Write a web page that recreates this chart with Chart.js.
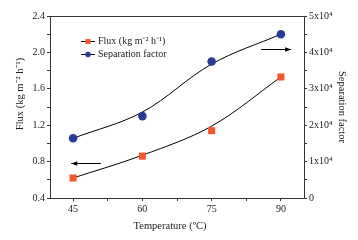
<!DOCTYPE html>
<html><head><meta charset="utf-8">
<script src="https://cdn.jsdelivr.net/npm/chart.js@4/dist/chart.umd.min.js"></script>
<style>html,body{margin:0;padding:0;background:#fff}#wrap{width:358px;height:240px;position:relative}</style>
</head><body><div id="wrap"><canvas id="c" width="358" height="240"></canvas></div>
<script>
const temperatures = [45, 60, 75, 90];
const fluxValues = [0.62, 0.86, 1.14, 1.73];
const separationFactors = [16400, 22500, 37500, 45000];
const fluxFit = [0.62, 0.87, 1.19, 1.73];
const separationFit = [16400, 23600, 36800, 45000];
const xTickValues = [45, 52.5, 60, 67.5, 75, 82.5, 90];
const fluxTickValues = [0.4, 0.6, 0.8, 1.0, 1.2, 1.4, 1.6, 1.8, 2.0, 2.2, 2.4];
const fluxTickLabels = ['0.4', '', '0.8', '', '1.2', '', '1.6', '', '2.0', '', '2.4'];
const sepTickValues = [0, 5000, 10000, 15000, 20000, 25000, 30000, 35000, 40000, 45000, 50000];
const sepTickLabels = ['0', '', '1x10\u2074', '', '2x10\u2074', '', '3x10\u2074', '', '4x10\u2074', '', '5x10\u2074'];
const legendLabels = ['Flux (kg m\u207B\u00B2 h\u207B\u00B9)', 'Separation factor'];
const axisTitles = {x: 'Temperature (\u00BAC)', y: 'Flux (kg m\u207B\u00B2 h\u207B\u00B9)', y2: 'Separation factor'};

const FLUX_COLOR = '#f2582a';
const SEP_COLOR = '#2a3a96';
const AXIS = '#333';
const FONT = 'Liberation Serif';

const pts = (xs, ys) => xs.map((x, i) => ({x: x, y: ys[i]}));

function setTicks(values) {
  return function (scale) { scale.ticks = values.map(v => ({value: v})); };
}

const extras = {
  id: 'extras',
  afterDraw(chart) {
    const ctx = chart.ctx, a = chart.chartArea;
    const sx = chart.scales.x, sy = chart.scales.y, sy2 = chart.scales.y2;
    ctx.save();
    ctx.strokeStyle = AXIS; ctx.lineWidth = 1;
    ctx.beginPath(); ctx.moveTo(a.left, a.top + 0.5); ctx.lineTo(a.right, a.top + 0.5); ctx.stroke();
    function arrow(x1, x2, y) {
      ctx.strokeStyle = '#000'; ctx.fillStyle = '#000'; ctx.lineWidth = 1;
      ctx.beginPath(); ctx.moveTo(x1, y); ctx.lineTo(x2, y); ctx.stroke();
      const d = Math.sign(x2 - x1);
      ctx.beginPath(); ctx.moveTo(x2, y); ctx.lineTo(x2 - d * 6, y - 2.2); ctx.lineTo(x2 - d * 6, y + 2.2); ctx.closePath(); ctx.fill();
    }
    const yl = Math.round(sy.getPixelForValue(0.79)) + 0.5;
    arrow(sx.getPixelForValue(51), sx.getPixelForValue(44.6), yl);
    const yr = Math.round(sy2.getPixelForValue(40900)) + 0.5;
    arrow(sx.getPixelForValue(85.7), sx.getPixelForValue(92.2), yr);
    ctx.font = '10px "' + FONT + '"'; ctx.textBaseline = 'middle'; ctx.textAlign = 'left';
    const lx = a.left + 31, ly = [a.top + 25, a.top + 38];
    for (let i = 0; i < 2; i++) {
      const y = ly[i] + 0.5;
      ctx.strokeStyle = '#000'; ctx.lineWidth = 1;
      ctx.beginPath(); ctx.moveTo(lx, y); ctx.lineTo(lx + 14, y); ctx.stroke();
      if (i === 0) { ctx.fillStyle = FLUX_COLOR; ctx.fillRect(lx + 4.5, y - 2.5, 5, 5); }
      else { ctx.fillStyle = SEP_COLOR; ctx.beginPath(); ctx.arc(lx + 7, y, 2.8, 0, Math.PI * 2); ctx.fill(); }
      ctx.fillStyle = '#222';
      ctx.fillText(legendLabels[i], lx + 17, y);
    }
    ctx.fillStyle = '#222';
    ctx.font = '10.5px "' + FONT + '"';
    ctx.textAlign = 'center'; ctx.textBaseline = 'middle';
    ctx.fillText(axisTitles.x, 170, 226);
    ctx.save(); ctx.translate(20, 94); ctx.rotate(-Math.PI / 2); ctx.fillText(axisTitles.y, 0, 0); ctx.restore();
    ctx.save(); ctx.translate(342, 107); ctx.rotate(Math.PI / 2); ctx.fillText(axisTitles.y2, 0, 0); ctx.restore();
    ctx.restore();
  }
};

new Chart(document.getElementById('c'), {
  type: 'scatter',
  data: {
    datasets: [
      {label: 'fluxFit', data: pts(temperatures, fluxFit), showLine: true, borderColor: '#000', borderWidth: 1,
       pointRadius: 0, tension: 0.35, yAxisID: 'y', order: 3},
      {label: 'sepFit', data: pts(temperatures, separationFit), showLine: true, borderColor: '#000', borderWidth: 1,
       pointRadius: 0, tension: 0.35, yAxisID: 'y2', order: 3},
      {label: legendLabels[0], data: pts(temperatures, fluxValues), pointStyle: 'rect', pointRadius: 5,
       backgroundColor: FLUX_COLOR, borderColor: FLUX_COLOR, borderWidth: 0, yAxisID: 'y', order: 1},
      {label: legendLabels[1], data: pts(temperatures, separationFactors), pointStyle: 'circle', pointRadius: 4.3,
       backgroundColor: SEP_COLOR, borderColor: SEP_COLOR, borderWidth: 0, yAxisID: 'y2', order: 1}
    ]
  },
  options: {
    responsive: false, animation: false, devicePixelRatio: 1,
    layout: {padding: {top: 16, left: 0, right: 0, bottom: 0}},
    plugins: {legend: {display: false}, tooltip: {enabled: false}},
    scales: {
      x: {type: 'linear', min: 40, max: 95, afterBuildTicks: setTicks(xTickValues),
          afterFit(s) { s.height = 42; },
          grid: {drawOnChartArea: false, tickLength: 3, color: AXIS},
          border: {color: AXIS, width: 1},
          ticks: {autoSkip: false, maxRotation: 0, padding: 2, color: '#222', font: {family: FONT, size: 10},
                  callback: v => Number.isInteger(v) ? String(v) : ''}},
      y: {type: 'linear', position: 'left', min: 0.4, max: 2.4, afterBuildTicks: setTicks(fluxTickValues),
          afterFit(s) { s.width = 50; },
          grid: {drawOnChartArea: false, tickLength: 3, color: AXIS},
          border: {color: AXIS, width: 1},
          ticks: {autoSkip: false, padding: 2, color: '#222', font: {family: FONT, size: 10},
                  callback: (v, i) => fluxTickLabels[i]}},
      y2: {type: 'linear', position: 'right', min: 0, max: 50000, afterBuildTicks: setTicks(sepTickValues),
          afterFit(s) { s.width = 54; },
          grid: {drawOnChartArea: false, tickLength: 3, color: AXIS},
          border: {color: AXIS, width: 1},
          ticks: {autoSkip: false, padding: 2, color: '#222', font: {family: FONT, size: 10},
                  callback: (v, i) => sepTickLabels[i]}}
    }
  },
  plugins: [extras]
});
</script></body></html>
